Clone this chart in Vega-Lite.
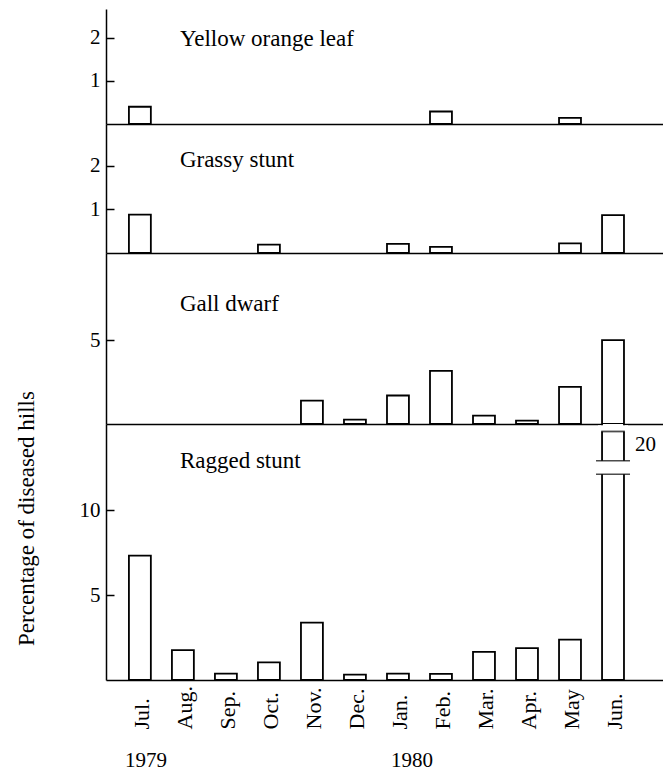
{
  "$schema": "https://vega.github.io/schema/vega-lite/v6.json",
  "autosize": {"type": "pad"},
  "padding": {"left": 14, "top": 9, "right": 0, "bottom": 0},
  "background": "white",
  "spacing": 0,
  "bounds": "flush",
  "config": {
    "view": {"stroke": null},
    "font": "Liberation Serif",
    "concat": {"spacing": 0},
    "axis": {
      "domainColor": "black", "domainWidth": 1.5,
      "tickColor": "black", "tickWidth": 1.5,
      "labelColor": "black", "labelFont": "Liberation Serif",
      "titleColor": "black", "titleFont": "Liberation Serif", "titleFontWeight": "normal",
      "grid": false
    }
  },
  "datasets": {
    "rates": [
      {"disease": "Yellow orange leaf", "month": "Jul.", "value": 0.40},
      {"disease": "Yellow orange leaf", "month": "Feb.", "value": 0.29},
      {"disease": "Yellow orange leaf", "month": "May", "value": 0.14},
      {"disease": "Grassy stunt", "month": "Jul.", "value": 0.88},
      {"disease": "Grassy stunt", "month": "Oct.", "value": 0.19},
      {"disease": "Grassy stunt", "month": "Jan.", "value": 0.21},
      {"disease": "Grassy stunt", "month": "Feb.", "value": 0.14},
      {"disease": "Grassy stunt", "month": "May", "value": 0.22},
      {"disease": "Grassy stunt", "month": "Jun.", "value": 0.87},
      {"disease": "Gall dwarf", "month": "Nov.", "value": 1.40},
      {"disease": "Gall dwarf", "month": "Dec.", "value": 0.26},
      {"disease": "Gall dwarf", "month": "Jan.", "value": 1.70},
      {"disease": "Gall dwarf", "month": "Feb.", "value": 3.17},
      {"disease": "Gall dwarf", "month": "Mar.", "value": 0.50},
      {"disease": "Gall dwarf", "month": "Apr.", "value": 0.20},
      {"disease": "Gall dwarf", "month": "May", "value": 2.21},
      {"disease": "Gall dwarf", "month": "Jun.", "value": 5.0},
      {"disease": "Ragged stunt", "month": "Jul.", "value": 7.32},
      {"disease": "Ragged stunt", "month": "Aug.", "value": 1.76},
      {"disease": "Ragged stunt", "month": "Sep.", "value": 0.38},
      {"disease": "Ragged stunt", "month": "Oct.", "value": 1.04},
      {"disease": "Ragged stunt", "month": "Nov.", "value": 3.38},
      {"disease": "Ragged stunt", "month": "Dec.", "value": 0.32},
      {"disease": "Ragged stunt", "month": "Jan.", "value": 0.38},
      {"disease": "Ragged stunt", "month": "Feb.", "value": 0.36},
      {"disease": "Ragged stunt", "month": "Mar.", "value": 1.65},
      {"disease": "Ragged stunt", "month": "Apr.", "value": 1.88},
      {"disease": "Ragged stunt", "month": "May", "value": 2.38},
      {"disease": "Ragged stunt", "month": "Jun.", "value": 20}
    ]
  },
  "resolve": {"scale": {"x": "independent", "y": "independent"}},
  "vconcat": [
    {
      "width": 557, "height": 115,
      "layer": [
        {
          "data": {"name": "rates"},
          "transform": [{"filter": "datum.disease === 'Yellow orange leaf'"}],
          "mark": {"type": "bar", "fill": "white", "stroke": "black", "strokeWidth": 1.8},
          "encoding": {
            "x": {"field": "month", "type": "nominal",
                  "scale": {"domain": ["Jul.","Aug.","Sep.","Oct.","Nov.","Dec.","Jan.","Feb.","Mar.","Apr.","May","Jun."], "paddingInner": 0.49, "paddingOuter": 0.72, "align": 0.37},
                  "axis": {"labels": false, "ticks": false, "title": null}},
            "y": {"field": "value", "type": "quantitative",
                  "scale": {"domain": [0, 2.67], "nice": false},
                  "axis": {"values": [1, 2], "title": null, "tickSize": -8, "labelPadding": 14, "labelFontSize": 21, "format": "d"}}
          }
        },
        {
          "data": {"values": [{"label": "Yellow orange leaf"}]},
          "mark": {"type": "text", "align": "left", "baseline": "alphabetic", "fontSize": 23, "dx": -3, "color": "black"},
          "encoding": {"x": {"datum": "Aug.", "type": "nominal"}, "y": {"datum": 1.8, "type": "quantitative"}, "text": {"field": "label"}}
        }
      ]
    },
    {
      "width": 557, "height": 129,
      "layer": [
        {
          "data": {"name": "rates"},
          "transform": [{"filter": "datum.disease === 'Grassy stunt'"}],
          "mark": {"type": "bar", "fill": "white", "stroke": "black", "strokeWidth": 1.8},
          "encoding": {
            "x": {"field": "month", "type": "nominal",
                  "scale": {"domain": ["Jul.","Aug.","Sep.","Oct.","Nov.","Dec.","Jan.","Feb.","Mar.","Apr.","May","Jun."], "paddingInner": 0.49, "paddingOuter": 0.72, "align": 0.37},
                  "axis": {"labels": false, "ticks": false, "title": null}},
            "y": {"field": "value", "type": "quantitative",
                  "scale": {"domain": [0, 2.96], "nice": false},
                  "axis": {"values": [1, 2], "title": null, "tickSize": -8, "labelPadding": 14, "labelFontSize": 21, "format": "d"}}
          }
        },
        {
          "data": {"values": [{"label": "Grassy stunt"}]},
          "mark": {"type": "text", "align": "left", "baseline": "alphabetic", "fontSize": 23, "dx": -3, "color": "black"},
          "encoding": {"x": {"datum": "Aug.", "type": "nominal"}, "y": {"datum": 1.98, "type": "quantitative"}, "text": {"field": "label"}}
        }
      ]
    },
    {
      "width": 557, "height": 171,
      "layer": [
        {
          "data": {"name": "rates"},
          "transform": [{"filter": "datum.disease === 'Gall dwarf'"}],
          "mark": {"type": "bar", "fill": "white", "stroke": "black", "strokeWidth": 1.8},
          "encoding": {
            "x": {"field": "month", "type": "nominal",
                  "scale": {"domain": ["Jul.","Aug.","Sep.","Oct.","Nov.","Dec.","Jan.","Feb.","Mar.","Apr.","May","Jun."], "paddingInner": 0.49, "paddingOuter": 0.72, "align": 0.37},
                  "axis": {"labels": false, "ticks": false, "title": null}},
            "y": {"field": "value", "type": "quantitative",
                  "scale": {"domain": [0, 10.2], "nice": false},
                  "axis": {"values": [5], "title": null, "tickSize": -8, "labelPadding": 14, "labelFontSize": 21, "format": "d"}}
          }
        },
        {
          "data": {"values": [{"label": "Gall dwarf"}]},
          "mark": {"type": "text", "align": "left", "baseline": "alphabetic", "fontSize": 23, "dx": -3, "color": "black"},
          "encoding": {"x": {"datum": "Aug.", "type": "nominal"}, "y": {"datum": 6.74, "type": "quantitative"}, "text": {"field": "label"}}
        }
      ]
    },
    {
      "width": 557, "height": 256,
      "layer": [
        {
          "data": {"name": "rates"},
          "transform": [{"filter": "datum.disease === 'Ragged stunt'"}],
          "mark": {"type": "bar", "fill": "white", "stroke": "black", "strokeWidth": 1.8, "clip": true},
          "encoding": {
            "x": {"field": "month", "type": "nominal",
                  "scale": {"domain": ["Jul.","Aug.","Sep.","Oct.","Nov.","Dec.","Jan.","Feb.","Mar.","Apr.","May","Jun."], "paddingInner": 0.49, "paddingOuter": 0.72, "align": 0.37},
                  "axis": {"ticks": false, "title": null, "labelAngle": 270, "labelAlign": "left", "labelBaseline": "middle", "labelPadding": 49, "labelFontSize": 22, "labelOffset": 2, "labelOverlap": false, "labelFlush": false}},
            "y": {"field": "value", "type": "quantitative",
                  "scale": {"domain": [0, 15.06], "nice": false},
                  "axis": {"values": [5, 10], "tickSize": -8, "labelPadding": 14, "labelFontSize": 21, "format": "d",
                           "title": "Percentage of diseased hills", "titleFontSize": 23, "titleAngle": 270, "titleAlign": "center", "titleBaseline": "middle", "titleX": -80, "titleY": 94}}
          }
        },
        {
          "data": {"name": "rates"},
          "transform": [{"filter": "datum.disease === 'Ragged stunt' && datum.value > 15"}],
          "layer": [
            {
              "mark": {"type": "bar", "fill": "white", "stroke": null, "width": 30},
              "encoding": {"x": {"field": "month", "type": "nominal"}, "y": {"datum": 14.62, "type": "quantitative"}, "y2": {"datum": 14.98}}
            },
            {
              "mark": {"type": "tick", "orient": "horizontal", "color": "black", "thickness": 1.8, "size": 23.6},
              "encoding": {"x": {"field": "month", "type": "nominal"}, "y": {"datum": 14.62, "type": "quantitative"}}
            },
            {
              "mark": {"type": "bar", "fill": "white", "stroke": null, "width": 30},
              "encoding": {"x": {"field": "month", "type": "nominal"}, "y": {"datum": 12.1, "type": "quantitative"}, "y2": {"datum": 12.9}}
            },
            {
              "mark": {"type": "tick", "orient": "horizontal", "color": "black", "thickness": 1.6, "size": 34},
              "encoding": {"x": {"field": "month", "type": "nominal"}, "y": {"datum": 12.1, "type": "quantitative"}}
            },
            {
              "mark": {"type": "tick", "orient": "horizontal", "color": "black", "thickness": 1.6, "size": 34},
              "encoding": {"x": {"field": "month", "type": "nominal"}, "y": {"datum": 12.9, "type": "quantitative"}}
            },
            {
              "mark": {"type": "text", "align": "left", "baseline": "alphabetic", "fontSize": 21, "dx": 22, "color": "black"},
              "encoding": {"x": {"field": "month", "type": "nominal"}, "y": {"datum": 13.5, "type": "quantitative"}, "text": {"field": "value", "type": "quantitative"}}
            }
          ]
        },
        {
          "data": {"values": [{"label": "Ragged stunt"}]},
          "mark": {"type": "text", "align": "left", "baseline": "alphabetic", "fontSize": 23, "dx": -3, "color": "black"},
          "encoding": {"x": {"datum": "Aug.", "type": "nominal"}, "y": {"datum": 12.5, "type": "quantitative"}, "text": {"field": "label"}}
        },
        {
          "data": {"values": [{"year": "1979"}]},
          "mark": {"type": "text", "align": "center", "baseline": "alphabetic", "fontSize": 21, "dx": 6, "color": "black"},
          "encoding": {"x": {"datum": "Jul.", "type": "nominal"}, "y": {"datum": -5.13, "type": "quantitative"}, "text": {"field": "year"}}
        },
        {
          "data": {"values": [{"year": "1980"}]},
          "mark": {"type": "text", "align": "center", "baseline": "alphabetic", "fontSize": 21, "dx": 14, "color": "black"},
          "encoding": {"x": {"datum": "Jan.", "type": "nominal"}, "y": {"datum": -5.13, "type": "quantitative"}, "text": {"field": "year"}}
        }
      ]
    }
  ]
}
